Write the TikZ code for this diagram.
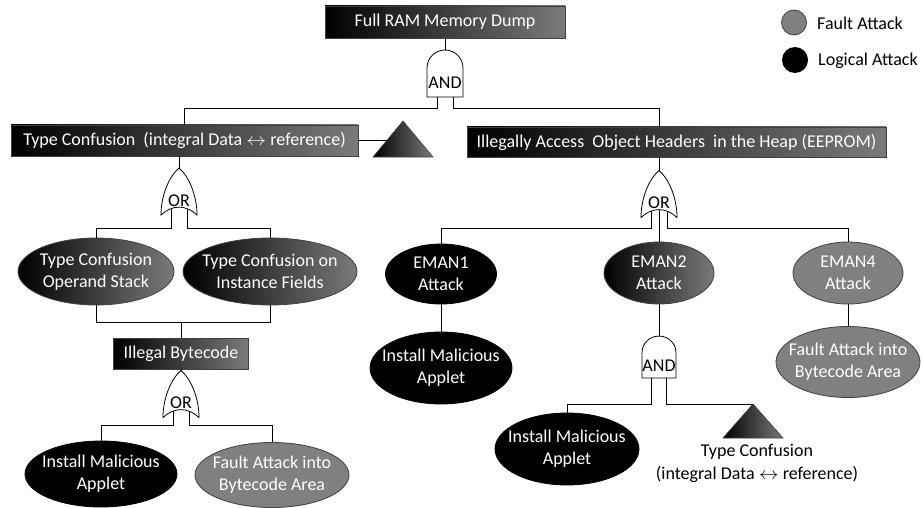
\documentclass[tikz,border=0pt]{standalone}
\usepackage{fontspec}
\setmainfont{Carlito}
\usetikzlibrary{shapes.geometric}
\definecolor{gradend}{RGB}{122,122,122}
\definecolor{faultgray}{RGB}{128,128,128}
\definecolor{edgegray}{RGB}{64,64,64}
\newcommand\lrarrow{\scalebox{1.15}[1]{$\leftrightarrow$}}
\tikzset{
  every node/.style={font=\fontsize{18}{21.7}\selectfont},
  box/.style={draw=edgegray, line width=0.8pt, left color=black, right color=gradend,
    text=white, inner sep=0pt, minimum height=31},
  ev/.style={ellipse, draw=edgegray, line width=0.8pt, inner sep=0pt},
  gradev/.style={ev, left color=black, right color=gradend},
  logev/.style={ev, fill=black, draw=black},
  faultev/.style={ev, fill=faultgray},
  evlabel/.style={align=center, text=white, inner sep=0pt},
  conn/.style={line width=0.8pt},
  gatepath/.style={draw=black, line width=0.8pt, fill=white},
  tri/.style={draw=edgegray, line width=0.6pt, left color=black, right color=gradend},
  orgate/.pic={
    \path[gatepath] (0,-23.5) .. controls (-10,-15) and (-18,4) .. (-18,23.5)
      .. controls (-7,13) and (7,13) .. (18,23.5)
      .. controls (18,4) and (10,-15) .. (0,-23.5) -- cycle;
    \node[inner sep=0pt, text=black] (-t) at (0,9) {OR};
    \coordinate (-in) at (0,-23.5);
    \coordinate (-l) at (-8,17);
    \coordinate (-r) at (8,17);
    \coordinate (-c) at (0,15.6);
  },
  andgate/.pic={
    \path[gatepath] (-18,23.5) -- (-18,-5.5)
      .. controls (-18,-15.44) and (-9.94,-23.5) .. (0,-23.5)
      .. controls (9.94,-23.5) and (18,-15.44) .. (18,-5.5) -- (18,23.5) -- cycle;
    \node[inner sep=0pt, text=black] (-t) at (0,9.5) {AND};
    \coordinate (-in) at (0,-23.5);
    \coordinate (-l) at (-8,23.5);
    \coordinate (-r) at (8,23.5);
  }
}
\begin{document}
\begin{tikzpicture}[x=1pt, y=-1pt]
\fill[white] (0,0) rectangle (923,508);
\useasboundingbox (0,0) rectangle (923,508);

% boxes
\node[box, minimum width=240, minimum height=32] (top) at (445,22) {Full RAM Memory Dump};
\node[box, minimum width=347] (tc) at (184.5,140.5) {Type Confusion~ (integral Data \lrarrow{} reference)};
\node[box, minimum width=419, minimum height=30] (ia) at (676.5,142) {Illegally Access~ Object Headers~ in the Heap (EEPROM)};
\node[box, minimum width=135] (ib) at (181,353.5) {Illegal Bytecode};

% gates
\pic (g1) at (445,73.5) {andgate};
\pic (g2) at (179,191.5) {orgate};
\pic (g3) at (659,194) {orgate};
\pic (g4) at (181,394) {orgate};
\pic[xscale=0.94, yscale=0.89] (g5) at (659,357) {andgate};

% ellipses
\node[gradev, minimum width=156, minimum height=67, label={[evlabel]center:{Type Confusion\\Operand Stack}}] (e1) at (96,271.5) {};
\node[gradev, minimum width=174, minimum height=67, label={[evlabel]center:{Type Confusion on\\Instance Fields}}] (e2) at (270,271.5) {};
\node[logev, minimum width=111, minimum height=60, label={[evlabel]center:{EMAN1\\Attack}}] (e3) at (441,274) {};
\node[gradev, minimum width=110, minimum height=62, label={[evlabel]center:{EMAN2\\Attack}}] (e4) at (659,273) {};
\node[faultev, minimum width=110, minimum height=62, label={[evlabel]center:{EMAN4\\Attack}}] (e5) at (848,273) {};
\node[logev, minimum width=142, minimum height=72, label={[evlabel]center:{Install Malicious\\Applet}}] (e6) at (441,368) {};
\node[faultev, minimum width=144, minimum height=71, label={[evlabel]center:{Fault Attack into\\Bytecode Area}}] (e7) at (848,362) {};
\node[logev, minimum width=144, minimum height=72, label={[evlabel]center:{Install Malicious\\Applet}}] (e8) at (567,449) {};
\node[logev, minimum width=152, minimum height=66, label={[evlabel]center:{Install Malicious\\Applet}}] (e9) at (101,474) {};
\node[faultev, minimum width=154, minimum height=65, label={[evlabel]center:{Fault Attack into\\Bytecode Area}}] (e10) at (272,475) {};

% triangles
\coordinate (t1a) at (403,121);
\coordinate (t1w) at (388,140.5);
\path[tri] (t1a) -- (373,157) -- (433,157) -- cycle;
\coordinate (t2a) at (753,404);
\path[tri] (t2a) -- (723,438) -- (783,438) -- cycle;
\node[align=center, inner sep=0pt, font=\fontsize{18}{23}\selectfont] (t2txt) at (757,463.5) {Type Confusion\\(integral Data \lrarrow{} reference)};

% legend
\node[circle, draw=edgegray, line width=0.8pt, fill=faultgray, minimum size=25, inner sep=0pt] (lfault) at (794,22.5) {};
\node[anchor=west, inner sep=0pt] (tfault) at (817,23) {Fault Attack};
\node[circle, fill=black, minimum size=26, inner sep=0pt] (llog) at (795,60) {};
\node[anchor=west, inner sep=0pt] (tlog) at (818,61) {Logical Attack};

% connectors
\coordinate (j1) at (181,322);
\draw[conn] (top.south) -- (g1-in);
\draw[conn] (g1-l) -- ++(0,11) -| (tc.north);
\draw[conn] (g1-r) -- ++(0,11) -| (ia.north -| g3-in);
\draw[conn] (tc.east) -- (t1w);
\draw[conn] (tc.south -| g2-in) -- (g2-in);
\draw[conn] (g2-l) -- ++(0,19.5) -| (e1.north);
\draw[conn] (g2-r) -- ++(0,19.5) -| (e2.north);
\draw[conn] (e1.south) |- (j1);
\draw[conn] (e2.south) |- (j1);
\draw[conn] (j1) -- (ib.north);
\draw[conn] (ib.south) -- (g4-in);
\draw[conn] (g4-l) -- ++(0,14) -| (e9.north);
\draw[conn] (g4-r) -- ++(0,14) -| (e10.north);
\draw[conn] (ia.south -| g3-in) -- (g3-in);
\draw[conn] (g3-l) -- ++(0,17) -| (e3.north);
\draw[conn] (g3-r) -- ++(0,17) -| (e5.north);
\draw[conn] (g3-c) -- (e4.north);
\draw[conn] (e3.south) -- (e6.north);
\draw[conn] (e5.south) -- (e7.north);
\draw[conn] (e4.south) -- (g5-in);
\draw[conn] (g5-l) -- ++(0,26) -| (e8.north);
\draw[conn] (g5-r) |- (t2a);
\end{tikzpicture}
\end{document}
